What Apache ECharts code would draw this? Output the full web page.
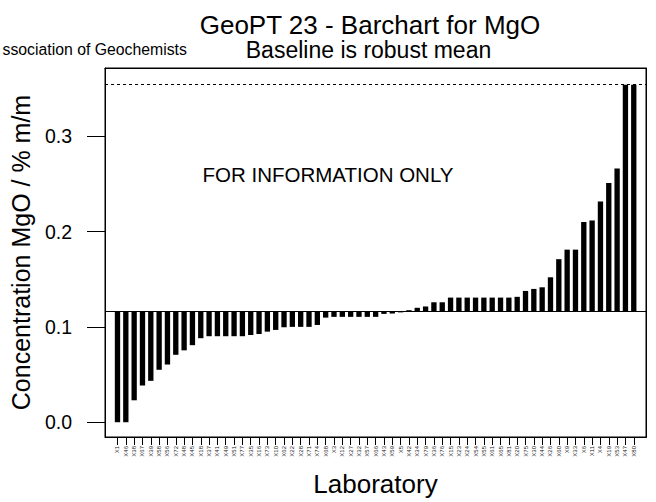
<!DOCTYPE html>
<html>
<head>
<meta charset="utf-8">
<script src="https://cdn.jsdelivr.net/npm/echarts@6/dist/echarts.min.js"></script>
<style>
  html, body { margin: 0; padding: 0; background: #fff; }
  #chart { width: 656px; height: 502px; }
</style>
</head>
<body>
<div id="chart"></div>
<script>
// ---- data ----
const labs = ["X1","X46","X38","X67","X39","X58","X56","X72","X48","X45","X18","X37","X41","X49","X51","X77","X35","X16","X73","X10","X62","X22","X28","X71","X74","X68","X3","X12","X27","X32","X57","X66","X43","X59","X5","X42","X34","X79","X36","X76","X15","X23","X24","X54","X55","X61","X65","X81","X20","X75","X30","X44","X26","X60","X9","X33","X6","X11","X4","X19","X53","X47","X80"];
const mgo = [0.0,0.0,0.023,0.0385,0.0434,0.055,0.0605,0.0707,0.0754,0.0808,
             0.0881,0.0902,0.0902,0.0902,0.0902,0.0902,0.0915,0.0925,0.095,0.0968,
             0.0996,0.1,0.1,0.1,0.102,0.1097,0.1105,0.1105,0.1105,0.1105,
             0.1105,0.1105,0.1136,0.114,0.1152,0.1175,0.12,0.1214,0.1258,0.1258,
             0.1307,0.1307,0.1307,0.1307,0.1307,0.1307,0.1307,0.1307,0.1315,0.1377,
             0.1398,0.1415,0.152,0.171,0.181,0.181,0.21,0.2116,0.2315,0.251,
             0.266,0.354,0.354];
const baseline = 0.1159;      // robust mean
const upperLimit = 0.3544;    // dashed line
const yTicks = [0.0, 0.1, 0.2, 0.3];

const FONT = '"Liberation Sans", Arial, Helvetica, sans-serif';
const xIdx = labs.map((_, i) => i);
const X_MIN = -1.5, X_MAX = 63.47, Y_MIN = -0.0155, Y_MAX = 0.3715;
function frameLine() { return {show: true, onZero: false, lineStyle: {color: '#000', width: 1, type: 'solid'}}; }

const chart = echarts.init(document.getElementById('chart'), null, {renderer: 'svg'});
chart.setOption({
  backgroundColor: '#ffffff',
  animation: false,
  textStyle: {fontFamily: FONT},
  grid: {
    left: 104, right: 10, top: 68, bottom: 65,
    show: true, borderColor: '#000', borderWidth: 1, backgroundColor: 'rgba(0,0,0,0)',
    containLabel: false
  },
  xAxis: [{
    type: 'value', position: 'bottom',
    min: X_MIN, max: X_MAX,
    axisLine: frameLine(),
    splitLine: {show: false},
    axisTick: {show: true, customValues: xIdx, length: 8, lineStyle: {color: '#000', width: 1}},
    axisLabel: {
      show: true, customValues: xIdx, rotate: 90, margin: 9,
      fontSize: 6, color: '#222', fontFamily: FONT,
      formatter: v => labs[Math.round(v)] || ''
    },
    name: 'Laboratory', nameLocation: 'middle', nameGap: 34,
    nameTextStyle: {fontSize: 26, color: '#000', fontFamily: FONT}
  }, {
    type: 'value', position: 'top',
    min: X_MIN, max: X_MAX,
    axisLine: frameLine(), axisTick: {show: false}, axisLabel: {show: false}, splitLine: {show: false}
  }],
  yAxis: [{
    type: 'value', position: 'left',
    min: Y_MIN, max: Y_MAX,
    axisLine: frameLine(),
    splitLine: {show: false},
    axisTick: {show: true, customValues: yTicks, length: 18, lineStyle: {color: '#000', width: 1}},
    axisLabel: {
      show: true, customValues: yTicks, margin: 33,
      fontSize: 19.5, color: '#000', fontFamily: FONT,
      formatter: v => v.toFixed(1)
    },
    name: 'Concentration MgO / % m/m', nameLocation: 'middle', nameGap: 72,
    nameTextStyle: {fontSize: 25, color: '#000', fontFamily: FONT}
  }, {
    type: 'value', position: 'right',
    min: Y_MIN, max: Y_MAX,
    axisLine: frameLine(), axisTick: {show: false}, axisLabel: {show: false}, splitLine: {show: false}
  }],
  series: [
    {
      type: 'custom',
      data: mgo.map((v, i) => [i, v]),
      encode: {x: 0, y: 1},
      renderItem: function (params, api) {
        const x = api.value(0), v = api.value(1);
        const p0 = api.coord([x, baseline]);
        const p1 = api.coord([x, v]);
        const w = api.size([0.64, 0])[0];
        return {
          type: 'rect',
          shape: {x: p0[0] - w / 2, y: Math.min(p0[1], p1[1]), width: w, height: Math.abs(p1[1] - p0[1])},
          style: {fill: '#000'}
        };
      }
    },
    {
      type: 'line',
      data: [],
      silent: true,
      markLine: {
        silent: true, animation: false, precision: 6,
        symbol: ['none', 'none'],
        label: {show: false},
        data: [
          {yAxis: baseline, lineStyle: {color: '#000', width: 1, type: 'solid'}},
          {yAxis: upperLimit, lineStyle: {color: '#000', width: 1, type: [3, 3]}}
        ]
      }
    }
  ],
  graphic: [
    {type: 'text', silent: true, style: {text: 'GeoPT 23 - Barchart for MgO', x: 370, y: 24.5,
      font: '26px ' + FONT, fill: '#000', align: 'center', verticalAlign: 'middle',
      textAlign: 'center', textVerticalAlign: 'middle'}},
    {type: 'text', silent: true, style: {text: 'Baseline is robust mean', x: 368.5, y: 50,
      font: '23px ' + FONT, fill: '#000', align: 'center', verticalAlign: 'middle',
      textAlign: 'center', textVerticalAlign: 'middle'}},
    {type: 'text', silent: true, style: {text: 'ssociation of Geochemists', x: 2.5, y: 49,
      font: '15.8px ' + FONT, fill: '#000', align: 'left', verticalAlign: 'middle',
      textAlign: 'left', textVerticalAlign: 'middle'}},
    {type: 'text', silent: true, style: {text: 'FOR INFORMATION ONLY', x: 328, y: 174,
      font: '20.5px ' + FONT, fill: '#000', align: 'center', verticalAlign: 'middle',
      textAlign: 'center', textVerticalAlign: 'middle'}}
  ]
});

// Plot frame (box) derived from the axes' extents
const tl = chart.convertToPixel({gridIndex: 0}, [X_MIN, Y_MAX]);
const br = chart.convertToPixel({gridIndex: 0}, [X_MAX, Y_MIN]);
chart.setOption({
  graphic: [{
    id: 'frame', type: 'rect', silent: true, z: 100,
    shape: {x: Math.round(tl[0]) + 0.5, y: Math.round(tl[1]) + 0.5,
            width: Math.round(br[0]) - Math.round(tl[0]), height: Math.round(br[1]) - Math.round(tl[1])},
    style: {fill: 'none', stroke: '#000', lineWidth: 1}
  }]
});
</script>
</body>
</html>
